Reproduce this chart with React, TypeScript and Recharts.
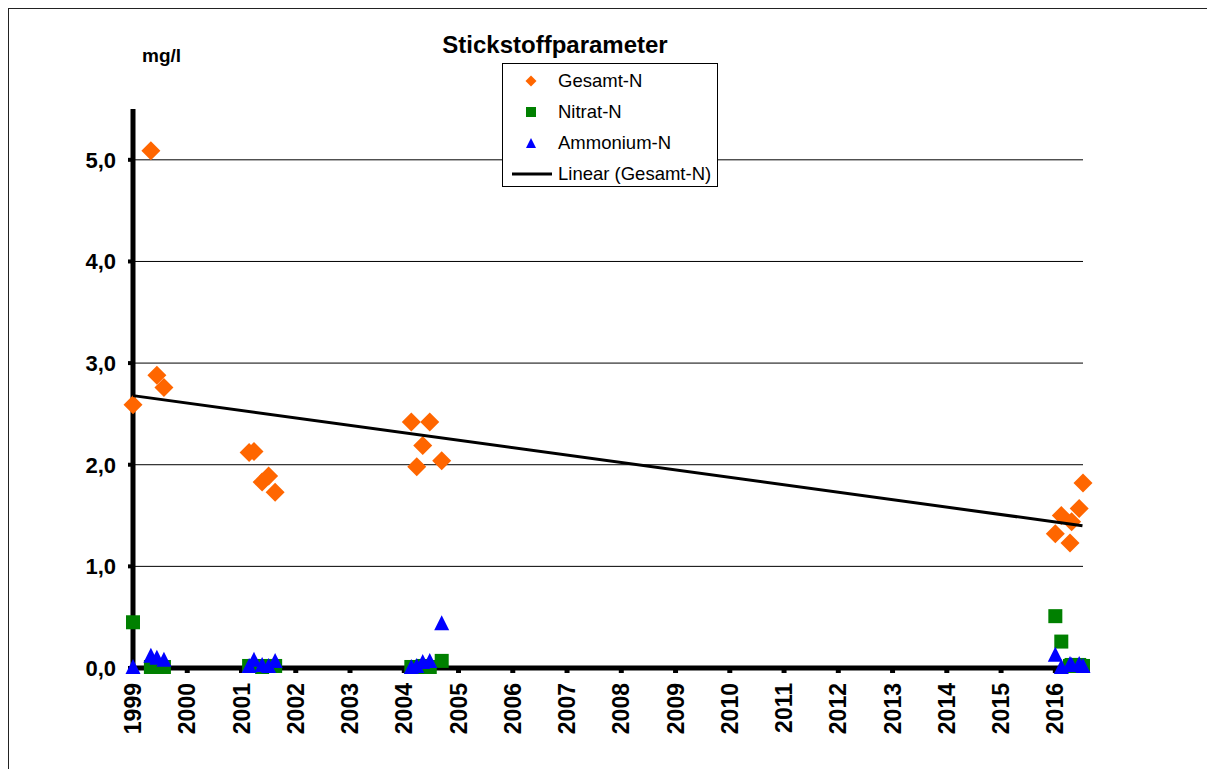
import { ScatterChart, Scatter, XAxis, YAxis, CartesianGrid } from "recharts";

// decimal years of the sampling dates
const gesamtX = [1999.0, 1999.33, 1999.44, 1999.57, 2001.14, 2001.23, 2001.38, 2001.5, 2001.62, 2004.13, 2004.23, 2004.34, 2004.47, 2004.69, 2016.0, 2016.11, 2016.27, 2016.3, 2016.44, 2016.51];
const gesamtY = [2.59, 5.09, 2.88, 2.76, 2.12, 2.13, 1.83, 1.89, 1.73, 2.42, 1.98, 2.19, 2.42, 2.04, 1.32, 1.5, 1.23, 1.44, 1.57, 1.82];
const nitratY = [0.45, 0.01, 0.01, 0.01, 0.02, 0.02, 0.01, 0.02, 0.02, 0.01, 0.01, 0.02, 0.01, 0.07, 0.51, 0.26, 0.02, 0.03, 0.03, 0.02];
const ammoniumY = [0.01, 0.12, 0.1, 0.08, 0.02, 0.08, 0.03, 0.02, 0.07, 0.01, 0.02, 0.06, 0.07, 0.44, 0.13, 0.01, 0.04, 0.03, 0.04, 0.02];
const trendX = [1999, 2016.5];
const trendY = [2.68, 1.4];
const years = [1999, 2000, 2001, 2002, 2003, 2004, 2005, 2006, 2007, 2008, 2009, 2010, 2011, 2012, 2013, 2014, 2015, 2016];
const yTicks = [0, 1, 2, 3, 4, 5];
const gridLines = [1, 2, 3, 4, 5];

const toPts = (xs: number[], ys: number[]) => xs.map((x, i) => ({ x, y: ys[i] }));
const gesamt = toPts(gesamtX, gesamtY);
const nitrat = toPts(gesamtX, nitratY);
const ammonium = toPts(gesamtX, ammoniumY);
const trend = toPts(trendX, trendY);

const ORANGE = "#FF6600";
const GREEN = "#008000";
const BLUE = "#0000FF";
const FONT = "'Liberation Sans', Arial, sans-serif";

function Diamond({ cx, cy, r = 9.5 }: any) {
  return <polygon points={`${cx},${cy - r} ${cx + r},${cy} ${cx},${cy + r} ${cx - r},${cy}`} fill={ORANGE} />;
}
function Square({ cx, cy, s = 14 }: any) {
  return <rect x={cx - s / 2} y={cy - s / 2} width={s} height={s} fill={GREEN} />;
}
function Triangle({ cx, cy, w = 15 }: any) {
  const h = 14;
  return <polygon points={`${cx},${cy - h / 2 - 1} ${cx + w / 2},${cy + h / 2} ${cx - w / 2},${cy + h / 2}`} fill={BLUE} />;
}

function XTick({ x, y, payload }: any) {
  return (
    <text
      transform={`translate(${x + 8},${y + 8}) rotate(-90)`}
      textAnchor="end"
      fontFamily={FONT}
      fontWeight="bold"
      fontSize={23}
      fill="#000"
    >
      {payload.value}
    </text>
  );
}

function YTick({ x, y, payload }: any) {
  return (
    <text x={x - 10} y={y + 8} textAnchor="end" fontFamily={FONT} fontWeight="bold" fontSize={22} fill="#000">
      {payload.value.toFixed(1).replace(".", ",")}
    </text>
  );
}

function LegendBox() {
  const row = { display: "flex", alignItems: "center", height: 31 } as const;
  const mark = { width: 55, display: "flex", justifyContent: "center" } as const;
  return (
    <div
      style={{
        position: "absolute",
        left: 493,
        top: 54,
        width: 216,
        height: 124,
        border: "1px solid #000",
        background: "#fff",
        fontFamily: FONT,
        fontSize: 18.5,
        boxSizing: "border-box",
        paddingTop: 1,
      }}
    >
      <div style={row}>
        <div style={mark}>
          <svg width="12" height="12"><polygon points="6,0.5 11.5,6 6,11.5 0.5,6" fill={ORANGE} /></svg>
        </div>
        Gesamt-N
      </div>
      <div style={row}>
        <div style={mark}>
          <svg width="12" height="12"><rect x="1" y="1" width="10" height="10" fill={GREEN} /></svg>
        </div>
        Nitrat-N
      </div>
      <div style={row}>
        <div style={mark}>
          <svg width="12" height="12"><polygon points="6,1 11,11 1,11" fill={BLUE} /></svg>
        </div>
        Ammonium-N
      </div>
      <div style={row}>
        <div style={mark}>
          <svg width="44" height="6"><line x1="3" y1="3" x2="43" y2="3" stroke="#000" strokeWidth="3" /></svg>
        </div>
        Linear (Gesamt-N)
      </div>
    </div>
  );
}

export default function App() {
  return (
    <div
      style={{
        position: "relative",
        width: 1199,
        height: 780,
        border: "1px solid #222",
        background: "#fff",
        fontFamily: FONT,
      }}
    >
      <div
        style={{
          position: "absolute",
          left: 0,
          width: 1092,
          top: 22,
          textAlign: "center",
          fontWeight: "bold",
          fontSize: 24,
        }}
      >
        Stickstoffparameter
      </div>
      <div style={{ position: "absolute", left: 133, top: 36, fontWeight: "bold", fontSize: 19 }}>mg/l</div>
      <ScatterChart width={1199} height={760} margin={{ top: 100, right: 125, left: 64, bottom: 41 }}>
        <CartesianGrid vertical={false} stroke="#000" strokeWidth={1} horizontalValues={gridLines} />
        <XAxis
          type="number"
          dataKey="x"
          domain={[1999, 2016.5]}
          ticks={years}
          interval={0}
          height={60}
          axisLine={{ stroke: "#000", strokeWidth: 5 }}
          tickLine={{ stroke: "#000", strokeWidth: 5 }}
          tickSize={5}
          tick={<XTick />}
        />
        <YAxis
          type="number"
          dataKey="y"
          domain={[0, 5.5]}
          ticks={yTicks}
          width={60}
          axisLine={{ stroke: "#000", strokeWidth: 5 }}
          tickLine={{ stroke: "#000", strokeWidth: 4 }}
          tickSize={5}
          tick={<YTick />}
        />
        <Scatter name="Gesamt-N" data={gesamt} shape={<Diamond />} isAnimationActive={false} />
        <Scatter name="Nitrat-N" data={nitrat} shape={<Square />} isAnimationActive={false} />
        <Scatter name="Ammonium-N" data={ammonium} shape={<Triangle />} isAnimationActive={false} />
        <Scatter
          name="Linear (Gesamt-N)"
          data={trend}
          line={{ stroke: "#000", strokeWidth: 3 }}
          shape={() => <g />}
          isAnimationActive={false}
        />
      </ScatterChart>
      <LegendBox />
    </div>
  );
}
